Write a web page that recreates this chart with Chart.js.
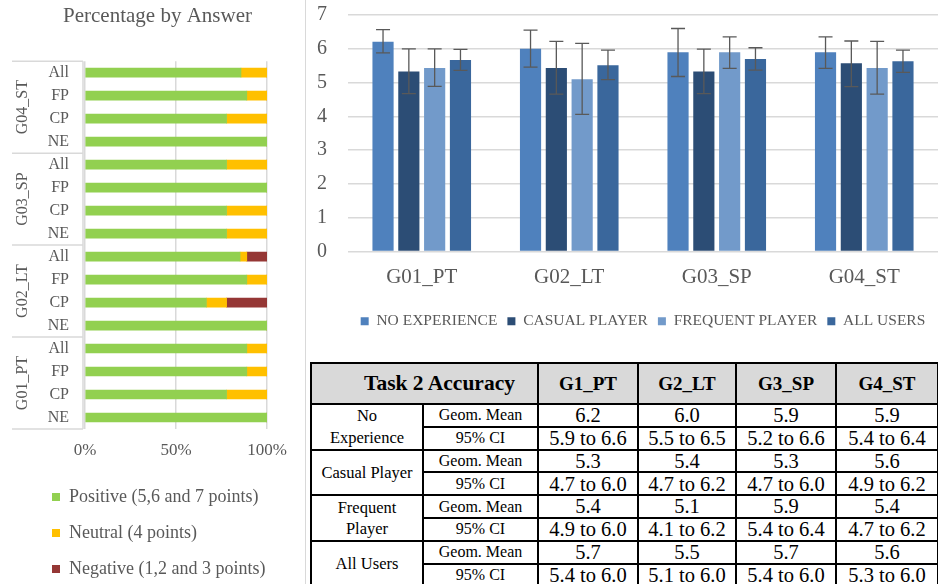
<!DOCTYPE html>
<html>
<head>
<meta charset="utf-8">
<script src="https://cdn.jsdelivr.net/npm/chart.js@4.4.1/dist/chart.umd.min.js"></script>
<style>
  body { margin: 0; background: #fff; overflow: hidden; width: 938px; height: 584px; position: relative; }
  #leftPanel { position: absolute; left: 0; top: 0; width: 305px; height: 584px; border-right: 1px solid #d9d9d9; }
  #answerChart { position: absolute; left: 0; top: 0; }
  #scoreChart { position: absolute; left: 306px; top: 0; }
  #accuracyTable {
    position: absolute; left: 310px; top: 362px; width: 627px;
    border-collapse: collapse; table-layout: fixed;
    font-family: 'Liberation Serif', 'Times New Roman', serif; color: #000;
    border: 2px solid #000;
  }
  #accuracyTable th, #accuracyTable td { border: 2px solid #000; padding: 0; text-align: center; line-height: 1; }
  #accuracyTable th { background: #d9d9d9; font-weight: bold; font-size: 19px; height: 39px; }
  #accuracyTable th.corner { font-size: 21.5px; padding-left: 30px; }
  #accuracyTable td { height: 20.8px; font-size: 20.5px; }
  #accuracyTable td.grp { font-size: 16.5px; white-space: pre-line; line-height: 1.3; }
  #accuracyTable td.stat { font-size: 16px; }
  #accuracyTable tr.ci td { border-top: 1px solid #000; }
</style>
</head>
<body>
<div id="leftPanel"></div>
<canvas id="answerChart" width="305" height="588"></canvas>
<canvas id="scoreChart" width="632" height="350"></canvas>
<table id="accuracyTable">
  <colgroup>
    <col style="width:112px"><col style="width:115px"><col style="width:100px">
    <col style="width:98px"><col style="width:100px"><col style="width:102px">
  </colgroup>
  <thead></thead>
  <tbody></tbody>
</table>
<script>
// ---- Percentage by Answer (top row first) ----
var groupNames = ['G04_ST', 'G03_SP', 'G02_LT', 'G01_PT'];
var answerLabels = ['All', 'FP', 'CP', 'NE', 'All', 'FP', 'CP', 'NE',
                    'All', 'FP', 'CP', 'NE', 'All', 'FP', 'CP', 'NE'];
var positive = [85.7, 88.9, 77.8, 100, 77.8, 100, 77.8, 77.8, 85.2, 88.9, 66.7, 100, 88.9, 88.9, 77.8, 100];
var neutral  = [14.3, 11.1, 22.2, 0, 22.2, 0, 22.2, 22.2, 3.7, 11.1, 11.1, 0, 11.1, 11.1, 22.2, 0];
var negative = [0, 0, 0, 0, 0, 0, 0, 0, 11.1, 0, 22.2, 0, 0, 0, 0, 0];
var percentTicks = [0, 50, 100];

// ---- Scores per game ----
var games = ['G01_PT', 'G02_LT', 'G03_SP', 'G04_ST'];
var noExperience   = [6.21, 6.0, 5.9, 5.9];
var casualPlayer   = [5.33, 5.43, 5.33, 5.57];
var frequentPlayer = [5.43, 5.1, 5.9, 5.43];
var allUsers       = [5.67, 5.51, 5.7, 5.63];
var noExperienceCI   = [[5.88, 6.57], [5.46, 6.55], [5.18, 6.6], [5.42, 6.35]];
var casualPlayerCI   = [[4.67, 6.0], [4.66, 6.22], [4.67, 5.99], [4.88, 6.23]];
var frequentPlayerCI = [[4.89, 6.0], [4.06, 6.16], [5.42, 6.35], [4.66, 6.22]];
var allUsersCI       = [[5.36, 5.98], [5.09, 5.96], [5.37, 6.03], [5.3, 5.96]];

// ---- Task 2 Accuracy table ----
var tableTitle = 'Task 2 Accuracy';
var tableColumns = ['G1_PT', 'G2_LT', 'G3_SP', 'G4_ST'];
var tableGroups = ['No\nExperience', 'Casual Player', 'Frequent\nPlayer', 'All Users'];
var geomMeans = [['6.2', '6.0', '5.9', '5.9'], ['5.3', '5.4', '5.3', '5.6'],
                 ['5.4', '5.1', '5.9', '5.4'], ['5.7', '5.5', '5.7', '5.6']];
var confidence = [['5.9 to 6.6', '5.5 to 6.5', '5.2 to 6.6', '5.4 to 6.4'],
                  ['4.7 to 6.0', '4.7 to 6.2', '4.7 to 6.0', '4.9 to 6.2'],
                  ['4.9 to 6.0', '4.1 to 6.2', '5.4 to 6.4', '4.7 to 6.2'],
                  ['5.4 to 6.0', '5.1 to 6.0', '5.4 to 6.0', '5.3 to 6.0']];

var serif = "'Liberation Serif', 'Times New Roman', serif";
var grey = '#595959';
var lineGrey = '#d9d9d9';
Chart.defaults.font.family = serif;
Chart.defaults.color = grey;
Chart.defaults.animation = false;

// group labels + bracket lines left of the answer bars
var groupBracket = {
  id: 'groupBracket',
  afterDraw: function(chart) {
    var ctx = chart.ctx, y = chart.scales.y;
    var step = y.getPixelForValue(1) - y.getPixelForValue(0);
    var top = y.getPixelForValue(0) - step / 2;
    var perGroup = answerLabels.length / groupNames.length;
    ctx.save();
    ctx.strokeStyle = lineGrey;
    ctx.lineWidth = 1.5;
    ctx.beginPath();
    ctx.moveTo(83, top);
    ctx.lineTo(83, top + step * answerLabels.length);
    for (var i = 0; i <= groupNames.length; i++) {
      var yy = top + i * perGroup * step;
      ctx.moveTo(12, yy);
      ctx.lineTo(83, yy);
    }
    ctx.stroke();
    ctx.fillStyle = grey;
    ctx.font = '16px ' + serif;
    ctx.textAlign = 'center';
    ctx.textBaseline = 'middle';
    groupNames.forEach(function(g, i) {
      ctx.save();
      ctx.translate(23, top + (i + 0.5) * perGroup * step);
      ctx.rotate(-Math.PI / 2);
      ctx.fillText(g, 0, 0);
      ctx.restore();
    });
    ctx.restore();
  }
};

new Chart(document.getElementById('answerChart'), {
  type: 'bar',
  data: {
    labels: answerLabels,
    datasets: [
      { label: 'Positive (5,6 and 7 points)', data: positive, backgroundColor: '#92d050' },
      { label: 'Neutral (4 points)', data: neutral, backgroundColor: '#ffc000' },
      { label: 'Negative (1,2 and 3 points)', data: negative, backgroundColor: '#953735' }
    ]
  },
  options: {
    indexAxis: 'y',
    responsive: false,
    layout: { padding: { left: 34, right: 24, top: 0, bottom: 0 } },
    datasets: { bar: { barThickness: 9 } },
    scales: {
      x: {
        stacked: true, min: 0, max: 100,
        afterBuildTicks: function(s) { s.ticks = percentTicks.map(function(v) { return { value: v }; }); },
        ticks: { callback: function(v) { return v + '%'; }, font: { size: 17 }, color: grey, padding: 11, maxRotation: 0 },
        grid: { color: lineGrey, lineWidth: 1.5, drawTicks: false },
        border: { display: false },
        afterFit: function(s) { s.height = 41; s.paddingRight = 38; }
      },
      y: {
        stacked: true,
        ticks: { font: { size: 16 }, color: grey, padding: 16 },
        grid: { display: false, drawTicks: false },
        border: { display: false },
        afterFit: function(s) { s.width = 51; }
      }
    },
    plugins: {
      title: {
        display: true, text: 'Percentage by Answer', color: grey,
        font: { size: 21, weight: 'normal' }, padding: { top: 4, bottom: 32 }
      },
      legend: {
        position: 'bottom', align: 'start',
        labels: { boxWidth: 8, boxHeight: 8, padding: 18, color: grey, font: { size: 18 } }
      },
      tooltip: { enabled: false }
    }
  },
  plugins: [groupBracket]
});

// error bars on the grouped score bars
var ciSets = [noExperienceCI, casualPlayerCI, frequentPlayerCI, allUsersCI];
var errorBars = {
  id: 'errorBars',
  afterDatasetsDraw: function(chart) {
    var ctx = chart.ctx, y = chart.scales.y;
    ctx.save();
    ctx.strokeStyle = '#595959';
    ctx.lineWidth = 1.3;
    ciSets.forEach(function(ci, d) {
      chart.getDatasetMeta(d).data.forEach(function(bar, i) {
        var lo = y.getPixelForValue(ci[i][0]), hi = y.getPixelForValue(ci[i][1]);
        ctx.beginPath();
        ctx.moveTo(bar.x, lo); ctx.lineTo(bar.x, hi);
        ctx.moveTo(bar.x - 7, lo); ctx.lineTo(bar.x + 7, lo);
        ctx.moveTo(bar.x - 7, hi); ctx.lineTo(bar.x + 7, hi);
        ctx.stroke();
      });
    });
    ctx.restore();
  }
};

new Chart(document.getElementById('scoreChart'), {
  type: 'bar',
  data: {
    labels: games,
    datasets: [
      { label: 'NO EXPERIENCE', data: noExperience, backgroundColor: '#4f81bd' },
      { label: 'CASUAL PLAYER', data: casualPlayer, backgroundColor: '#2c4d75' },
      { label: 'FREQUENT PLAYER', data: frequentPlayer, backgroundColor: '#729aca' },
      { label: 'ALL USERS', data: allUsers, backgroundColor: '#3a679c' }
    ]
  },
  options: {
    responsive: false,
    layout: { padding: { left: 0, right: 0, top: 15, bottom: 11 } },
    datasets: { bar: { categoryPercentage: 0.7, barPercentage: 0.82 } },
    scales: {
      x: {
        ticks: { font: { size: 21 }, color: grey, padding: 13 },
        grid: { display: false, drawTicks: false },
        border: { display: false },
        afterFit: function(s) { s.height = 52; }
      },
      y: {
        min: 0, max: 7,
        ticks: { stepSize: 1, autoSkip: false, font: { size: 20 }, color: grey, padding: 21 },
        grid: { color: lineGrey, lineWidth: 1.5, drawTicks: false },
        border: { display: false },
        afterFit: function(s) { s.width = 42; s.paddingTop = 0; s.paddingBottom = 0; }
      }
    },
    plugins: {
      legend: {
        position: 'bottom', fullSize: false,
        labels: { boxWidth: 8, boxHeight: 8, padding: 10, color: grey, font: { size: 15.5 } }
      },
      tooltip: { enabled: false }
    }
  },
  plugins: [errorBars]
});

// table
var thead = document.querySelector('#accuracyTable thead');
var head = '<tr><th class="corner" colspan="2">' + tableTitle + '</th>';
tableColumns.forEach(function(c) { head += '<th>' + c + '</th>'; });
thead.innerHTML = head + '</tr>';
var body = '';
tableGroups.forEach(function(g, i) {
  body += '<tr><td class="grp" rowspan="2">' + g + '</td><td class="stat">Geom. Mean</td>';
  geomMeans[i].forEach(function(v) { body += '<td>' + v + '</td>'; });
  body += '</tr><tr class="ci"><td class="stat">95% CI</td>';
  confidence[i].forEach(function(v) { body += '<td>' + v + '</td>'; });
  body += '</tr>';
});
document.querySelector('#accuracyTable tbody').innerHTML = body;
</script>
</body>
</html>
